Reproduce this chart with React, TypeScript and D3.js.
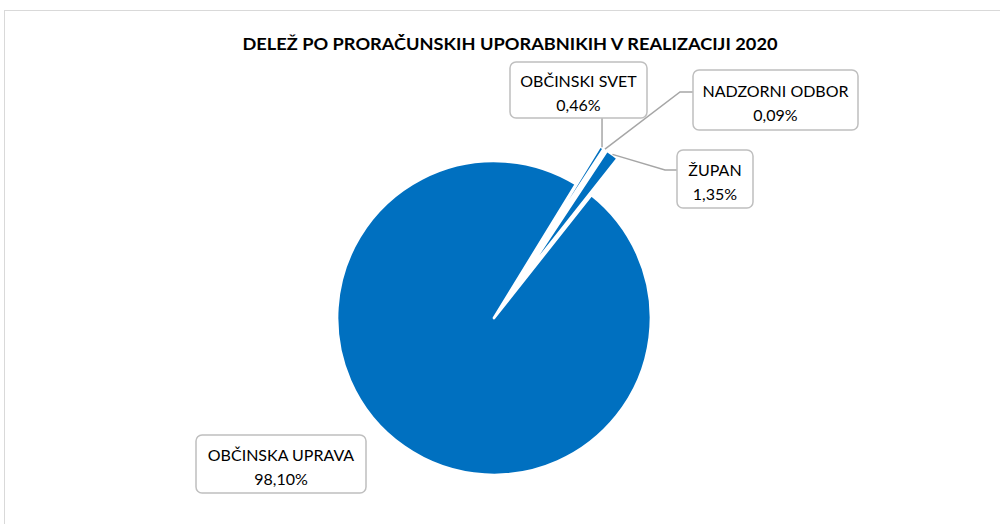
import React from "react";
import * as d3 from "d3";

const categories = ["OBČINSKI SVET", "NADZORNI ODBOR", "ŽUPAN", "OBČINSKA UPRAVA"];
const values = [0.46, 0.09, 1.35, 98.1];
const valueLabels = ["0,46%", "0,09%", "1,35%", "98,10%"];
const exploded = [true, true, true, false];
const title = "DELEŽ PO PRORAČUNSKIH UPORABNIKIH V REALIZACIJI 2020";

// layout
const W = 1000, H = 524;
const cx = 494, cy = 318, R = 157, EXPLODE = 45;
const startDeg = 31.5;
const labelBoxes = [
  { x: 510, y: 62, w: 137, h: 56, leader: "vertical" },
  { x: 693, y: 70, w: 165, h: 60, leader: "elbow", elbowX: 680, elbowY: 92 },
  { x: 677, y: 150, w: 76, h: 58, leader: "elbow", elbowX: 665, elbowY: 170 },
  { x: 196, y: 435, w: 170, h: 58, leader: "none" },
];

export default function App() {
  const pie = d3
    .pie<number>()
    .sort(null)
    .startAngle((startDeg * Math.PI) / 180)
    .endAngle(((startDeg + 360) * Math.PI) / 180)
    .value((d) => d);
  const arcs = pie(values);
  const arcGen = d3.arc<d3.PieArcDatum<number>>().innerRadius(0).outerRadius(R);
  const blue = "#0070C0";
  const lineCol = "#a6a6a6";

  return (
    <svg width={W} height={H} style={{ position: "absolute", left: 0, top: 0, background: "#fff" }}>
      <rect x={4.5} y={10.5} width={1100} height={600} fill="#fff" stroke="#d9d9d9" strokeWidth={1} />
      <text
        x={510}
        y={50}
        textAnchor="middle"
        fontFamily="Lato, 'Open Sans', sans-serif"
        fontWeight={700}
        fontSize={17.5}
        fill="#000"
        textLength={535}
        lengthAdjust="spacingAndGlyphs"
      >
        {title}
      </text>
      <g transform={`translate(${cx},${cy})`}>
        {arcs.map((a, i) => {
          const mid = (a.startAngle + a.endAngle) / 2;
          const off = exploded[i] ? EXPLODE : 0;
          const tx = Math.sin(mid) * off;
          const ty = -Math.cos(mid) * off;
          return (
            <path
              key={i}
              d={arcGen(a) || ""}
              transform={`translate(${tx},${ty})`}
              fill={blue}
              stroke="#fff"
              strokeWidth={2.75}
              strokeLinejoin="round"
            />
          );
        })}
      </g>
      {arcs.map((a, i) => {
        const b = labelBoxes[i];
        if (b.leader === "none") return null;
        const mid = (a.startAngle + a.endAngle) / 2;
        const rr = R + (exploded[i] ? EXPLODE : 0);
        const px = cx + Math.sin(mid) * rr;
        const py = cy - Math.cos(mid) * rr;
        let pts: [number, number][];
        if (b.leader === "vertical") {
          pts = [[px, py], [px, b.y + b.h]];
        } else {
          pts = [[px, py], [b.elbowX as number, b.elbowY as number], [b.x, b.elbowY as number]];
        }
        return (
          <path
            key={"l" + i}
            d={d3.line()(pts) || ""}
            fill="none"
            stroke={lineCol}
            strokeWidth={1.5}
          />
        );
      })}
      {categories.map((c, i) => {
        const b = labelBoxes[i];
        const mx = b.x + b.w / 2;
        return (
          <g key={"b" + i}>
            <rect x={b.x} y={b.y} width={b.w} height={b.h} rx={6} ry={6} fill="#fff" stroke="#bfbfbf" strokeWidth={1.5} />
            <text
              x={mx}
              y={b.y + b.h / 2 - 3}
              textAnchor="middle"
              fontFamily="Lato, 'Open Sans', sans-serif"
              fontSize={16}
              fill="#000"
            >
              {c}
            </text>
            <text
              x={mx}
              y={b.y + b.h / 2 + 21}
              textAnchor="middle"
              fontFamily="Lato, 'Open Sans', sans-serif"
              fontSize={16}
              fill="#000"
            >
              {valueLabels[i]}
            </text>
          </g>
        );
      })}
    </svg>
  );
}
